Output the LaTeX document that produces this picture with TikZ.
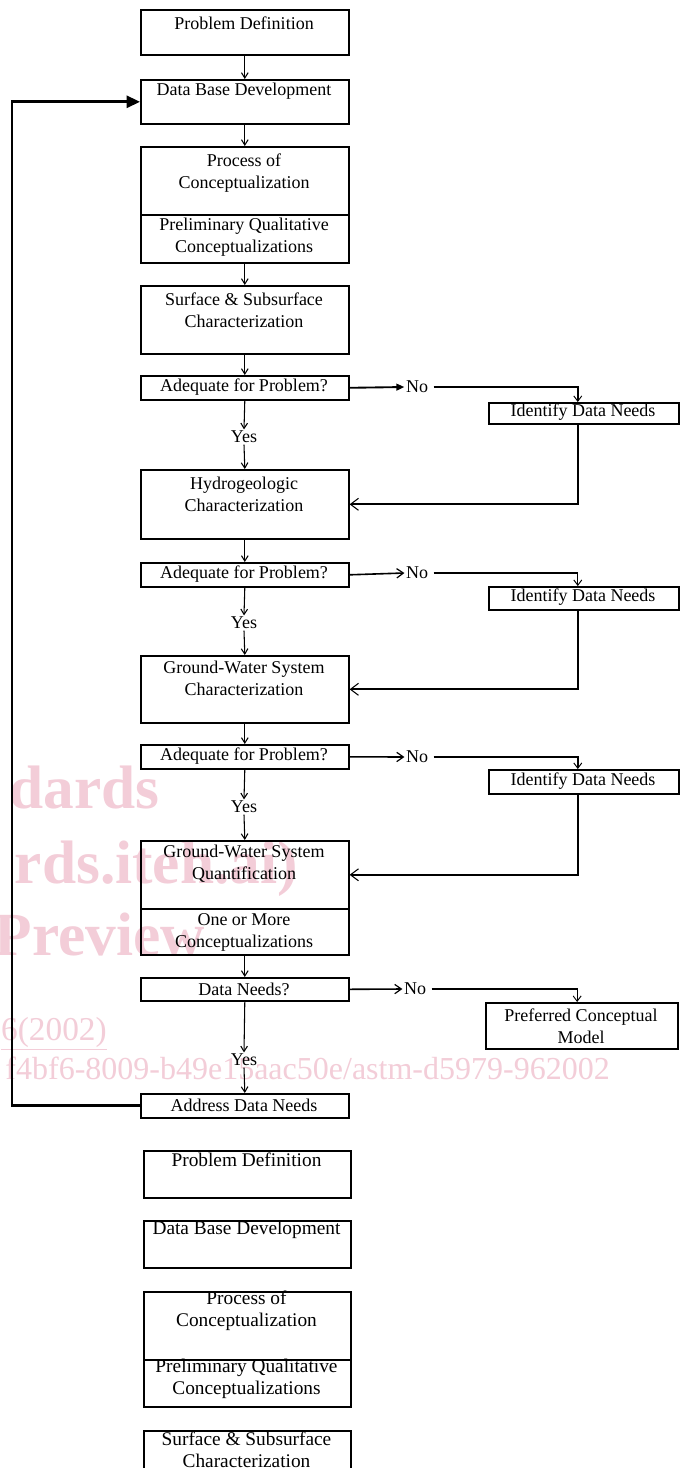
\documentclass[tikz,border=0pt]{standalone}
\usepackage{fontspec}
\setmainfont{Liberation Serif}
\usetikzlibrary{arrows.meta}
\definecolor{wmpink}{RGB}{243,205,216}
\begin{document}
\begin{tikzpicture}[x=0.75pt,y=-0.75pt,
  box/.style={draw, line width=1.2pt, inner sep=0pt, anchor=north west},
  lbl/.style={font=\fontsize{13.5}{16.5}\selectfont, align=center, inner sep=1pt},
  clbl/.style={font=\fontsize{14.5}{16.5}\selectfont, align=center, inner sep=1pt},
  wm/.style={text=wmpink, inner sep=0pt, anchor=base east},
  dn/.style={line width=0.8pt, -{Straight Barb[length=4pt,width=5pt]}},
  noA/.style={line width=1.4pt, -{Triangle[length=6pt,width=5pt]}},
  noB/.style={line width=1.2pt, -{Straight Barb[length=5pt,width=7pt,line width=0.9pt]}},
  toid/.style={line width=1.1pt, shorten <=3pt, -{Straight Barb[length=4pt,width=6pt,line width=0.7pt]}},
  fb/.style={line width=1.6pt, -{Straight Barb[length=6pt,width=9pt,line width=0.8pt]}},
  loopA/.style={line width=2pt, -{Triangle[length=10pt,width=9pt]}}
]
\path[use as bounding box, fill=white] (0,0) rectangle (687,1468);
\clip (0,0) rectangle (687,1468);

% watermark
\node[wm, font=\bfseries\fontsize{46}{46}\selectfont] (wm1) at (160,808) {dards};
\node[wm, font=\bfseries\fontsize{46}{46}\selectfont] (wm2) at (298,883) {rds.iteh.ai)};
\node[wm, font=\bfseries\fontsize{46}{46}\selectfont] (wm3) at (205,955) {Preview};
\node[wm, font=\fontsize{25}{25}\selectfont] (wm4) at (107,1040) {\underline{6(2002)}};
\node[wm, font=\fontsize{24}{24}\selectfont] (wm5) at (610,1079) {f4bf6-8009-b49e15aac50e/astm-d5979-962002};

% main column boxes
\node[box, minimum width=156pt, minimum height=33.75pt] (pd) at (140,9) {};
\node[lbl] (pdt) at (244,23) {Problem Definition};
\node[box, minimum width=156pt, minimum height=33pt] (dbd) at (140,79) {};
\node[lbl] (dbdt) at (244,91) {Data Base Development};
\node[box, minimum width=156pt, minimum height=51pt] (poc) at (140,146) {};
\node[lbl] (poct) at (244,173) {Process of\\Conceptualization};
\node[box, minimum width=156pt, minimum height=36pt] (pqc) at (140,214) {};
\node[lbl] (pqct) at (244,237) {Preliminary Qualitative\\Conceptualizations};
\node[box, minimum width=156pt, minimum height=51pt] (surf) at (140,285) {};
\node[lbl] (surft) at (244,310) {Surface \& Subsurface\\Characterization};
\node[box, minimum width=156pt, minimum height=18pt] (adq1) at (140,375) {};
\node[lbl] (adq1t) at (244,387) {Adequate for Problem?};
\node[lbl] (yes1) at (244,437) {Yes};
\node[lbl] (no1) at (417,387) {No};
\node[box, minimum width=142.5pt, minimum height=15.75pt] (idn1) at (488,402) {};
\node[lbl] (idn1t) at (583,412) {Identify Data Needs};
\node[box, minimum width=156pt, minimum height=51.75pt] (hyd) at (140,469) {};
\node[lbl] (hydt) at (244,494) {Hydrogeologic\\Characterization};
\node[box, minimum width=156pt, minimum height=18pt] (adq2) at (140,562) {};
\node[lbl] (adq2t) at (244,574) {Adequate for Problem?};
\node[lbl] (yes2) at (244,623) {Yes};
\node[lbl] (no2) at (417,573) {No};
\node[box, minimum width=142.5pt, minimum height=17.25pt] (idn2) at (488,586) {};
\node[lbl] (idn2t) at (583,597) {Identify Data Needs};
\node[box, minimum width=156pt, minimum height=50.25pt] (gwsc) at (140,655) {};
\node[lbl] (gwsct) at (244,678) {Ground-Water System\\Characterization};
\node[box, minimum width=156pt, minimum height=18pt] (adq3) at (140,744) {};
\node[lbl] (adq3t) at (244,756) {Adequate for Problem?};
\node[lbl] (yes3) at (244,807) {Yes};
\node[lbl] (no3) at (417,757) {No};
\node[box, minimum width=142.5pt, minimum height=18pt] (idn3) at (488,769) {};
\node[lbl] (idn3t) at (583,781) {Identify Data Needs};
\node[box, minimum width=156pt, minimum height=51pt] (gwsq) at (140,840) {};
\node[lbl] (gwsqt) at (244,864) {Ground-Water System\\Quantification};
\node[box, minimum width=156pt, minimum height=34.5pt] (omc) at (140,908) {};
\node[lbl] (omct) at (244,932) {One or More\\Conceptualizations};
\node[box, minimum width=156pt, minimum height=17.25pt] (dn) at (140,977) {};
\node[lbl] (dnt) at (244,989) {Data Needs?};
\node[lbl] (no4) at (415,989) {No};
\node[box, minimum width=144pt, minimum height=34.5pt] (pcm) at (485,1002) {};
\node[lbl] (pcmt) at (581,1026) {Preferred Conceptual\\Model};
\node[lbl] (yes4) at (244,1060) {Yes};
\node[box, minimum width=156pt, minimum height=18pt] (adn) at (140,1093) {};
\node[lbl] (adnt) at (244,1105) {Address Data Needs};

% copies at the bottom
\node[box, minimum width=155.25pt, minimum height=35.25pt] (pdc) at (143,1150) {};
\node[clbl] (pdct) at (246.5,1160) {Problem Definition};
\node[box, minimum width=155.25pt, minimum height=35.25pt] (dbdc) at (143,1220) {};
\node[clbl] (dbdct) at (246.5,1230) {Data Base Development};
\node[box, minimum width=155.25pt, minimum height=51pt] (pocc) at (143,1291) {};
\node[clbl] (pocct) at (246.5,1311) {Process of\\Conceptualization};
\node[box, minimum width=155.25pt, minimum height=35.25pt] (pqcc) at (143,1359) {};
\node[clbl] (pqcct) at (246.5,1379) {Preliminary Qualitative\\Conceptualizations};
\node[box, minimum width=155.25pt, minimum height=45pt] (surfc) at (143,1430) {};
\node[clbl] (surfct) at (246.5,1450) {Surface \& Subsurface\\Characterization};

% vertical flow
\draw[dn] (pd.south) -- (dbd.north);
\draw[dn] (dbd.south) -- (poc.north);
\draw[dn] (pqc.south) -- (surf.north);
\draw[dn] (surf.south) -- (adq1.north);
\draw[dn] (adq1.south) -- (yes1.north);
\draw[dn] (yes1.south) -- (hyd.north);
\draw[dn] (hyd.south) -- (adq2.north);
\draw[dn] (adq2.south) -- (yes2.north);
\draw[dn] (yes2.south) -- (gwsc.north);
\draw[dn] (gwsc.south) -- (adq3.north);
\draw[dn] (adq3.south) -- (yes3.north);
\draw[dn] (yes3.south) -- (gwsq.north);
\draw[dn] (omc.south) -- (dn.north);
\draw[dn] (dn.south) -- (yes4.north);
\draw[dn] (yes4.south) -- (adn.north);

% No branches
\draw[noA] (adq1.east) -- (no1.west);
\draw[noB] (adq2.east) -- (no2.west);
\draw[noB] (adq3.east) -- (no3.west);
\draw[noB] (dn.east) -- (no4.west);
\draw[toid, line width=1.6pt] (no1.east) -| ([xshift=-4.5pt]idn1.north);
\draw[toid, line width=0.8pt] (no2.east) -| ([xshift=-4.5pt]idn2.north);
\draw[toid, line width=1.4pt] (no3.east) -| ([xshift=-4.5pt]idn3.north);
\draw[toid, line width=0.8pt] (no4.east) -| ([xshift=-3.5pt]pcm.north);

% feedback from Identify Data Needs
\draw[fb] ([xshift=-4.5pt]idn1.south) |- (hyd.east);
\draw[fb] ([xshift=-4.5pt]idn2.south) |- (gwsc.east);
\draw[fb] ([xshift=-4.5pt]idn3.south) |- (gwsq.east);

% loop back
\draw[loopA] (adn.west) -- ++(-128,0) |- (dbd.west);
\end{tikzpicture}
\end{document}
